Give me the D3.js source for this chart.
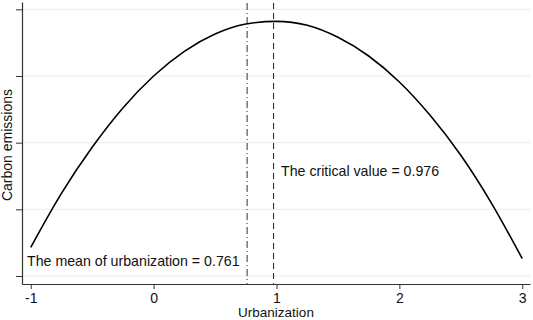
<!DOCTYPE html>
<html>
<head>
<meta charset="utf-8">
<script src="https://cdn.jsdelivr.net/npm/d3@7"></script>
<style>
    body { margin: 0; background: #fff; }
    text { font-family: "Liberation Sans", Arial, sans-serif; fill: #111; }
</style>
</head>
<body>
<svg id="chart"></svg>
<script>
// Data
const urbanization = [-1, -0.75, -0.5, -0.25, 0, 0.25, 0.5, 0.75, 1, 1.25, 1.5, 1.75, 2, 2.25, 2.5, 2.75, 3];
const emissions = [0.43, 1.24, 1.93, 2.52, 3.00, 3.37, 3.63, 3.78, 3.82, 3.76, 3.58, 3.30, 2.91, 2.41, 1.81, 1.09, 0.26];
const xTicks = [-1, 0, 1, 2, 3];
const yTicks = [0, 1, 2, 3, 4];
const meanValue = 0.761;
const criticalValue = 0.976;

const width = 533, height = 320;

const svg = d3.select('#chart')
    .attr('width', width)
    .attr('height', height);

const x = d3.scaleLinear().domain([-1.071, 3.063]).range([22, 530]);
const y = d3.scaleLinear().domain([-0.12, 4.11]).range([284, 2]);

// Horizontal grid lines
svg.append('g')
    .selectAll('line')
    .data(yTicks)
    .enter()
    .append('line')
    .attr('x1', 22)
    .attr('x2', 530)
    .attr('y1', d => y(d))
    .attr('y2', d => y(d))
    .attr('stroke', '#e3eeee')
    .attr('stroke-width', 1);

// Y axis (ticks, no labels)
const yAxis = svg.append('g')
    .attr('transform', 'translate(22,0)')
    .call(d3.axisLeft(y).tickValues(yTicks).tickSize(6).tickFormat('').tickSizeOuter(0));

// X axis
const xAxis = svg.append('g')
    .attr('transform', 'translate(0,284)')
    .call(d3.axisBottom(x).tickValues(xTicks).tickSize(5).tickSizeOuter(0).tickPadding(4)
        .tickFormat(d => d < 0 ? '-' + Math.abs(d) : d));

[yAxis, xAxis].forEach(ax => {
    ax.select('.domain').attr('stroke', '#333').attr('stroke-width', 1.2);
    ax.selectAll('.tick line').attr('stroke', '#333');
});
xAxis.selectAll('.tick text')
    .attr('font-size', 14)
    .attr('fill', '#111')
    .style('font-family', '"Liberation Sans", Arial, sans-serif');

// Vertical reference lines
svg.append('line')
    .attr('x1', x(meanValue)).attr('x2', x(meanValue))
    .attr('y1', 3).attr('y2', 284)
    .attr('stroke', '#444')
    .attr('stroke-width', 1.1)
    .attr('stroke-dasharray', '7,3,1,3');

svg.append('line')
    .attr('x1', x(criticalValue)).attr('x2', x(criticalValue))
    .attr('y1', 3).attr('y2', 284)
    .attr('stroke', '#333')
    .attr('stroke-width', 1.1)
    .attr('stroke-dasharray', '6,4');

// Fitted curve
const points = urbanization.map((u, i) => [u, emissions[i]]);
svg.append('path')
    .datum(points)
    .attr('fill', 'none')
    .attr('stroke', '#000')
    .attr('stroke-width', 1.6)
    .attr('d', d3.line()
        .x(d => x(d[0]))
        .y(d => y(d[1]))
        .curve(d3.curveMonotoneX));

// Annotations
svg.append('text')
    .attr('x', 281)
    .attr('y', 176)
    .attr('font-size', 14.2)
    .text('The critical value = ' + criticalValue);

svg.append('text')
    .attr('x', 27)
    .attr('y', 266)
    .attr('font-size', 14.2)
    .text('The mean of urbanization = ' + meanValue);

// Axis titles
svg.append('text')
    .attr('x', 276)
    .attr('y', 316.5)
    .attr('text-anchor', 'middle')
    .attr('font-size', 13.5)
    .text('Urbanization');

svg.append('text')
    .attr('transform', 'translate(12,145) rotate(-90)')
    .attr('text-anchor', 'middle')
    .attr('font-size', 14)
    .text('Carbon emissions');
</script>
</body>
</html>
